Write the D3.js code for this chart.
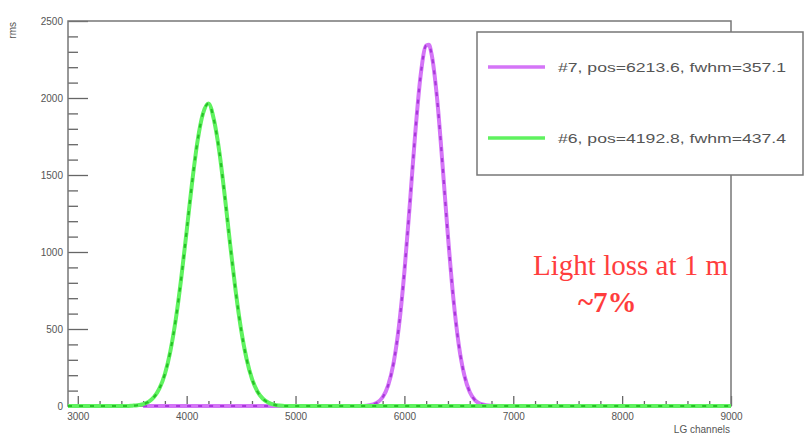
<!DOCTYPE html>
<html>
<head>
<meta charset="utf-8">
<script src="https://cdn.jsdelivr.net/npm/d3@7"></script>
<style>
    body { margin: 0; background: #fff; }
    #chart-area { width: 805px; height: 435px; }
    .tick text { font-family: "Liberation Sans", Arial, sans-serif; font-size: 10px; fill: #555; }
    .tick line { stroke: #666; stroke-width: 1.3; }
</style>
</head>
<body>
<div id="chart-area"></div>
<script>

// channel positions / counts
let xDomain = [2910, 9000];
let yDomain = [0, 2500];
let xMajorTicks = [3000, 4000, 5000, 6000, 7000, 8000, 9000];
let yMajorTicks = [0, 500, 1000, 1500, 2000, 2500];

// #7 (magenta)
let magentaChannels = [3600, 5600, 5650, 5700, 5750, 5800, 5850, 5900, 5950, 6000, 6050, 6100, 6150, 6200, 6225, 6250, 6300, 6350, 6400, 6450, 6500, 6550, 6600, 6650, 6700, 6750, 6800, 6850];
let magentaCounts   = [0, 0, 2, 8, 22, 57, 133, 277, 519, 872, 1313, 1775, 2152, 2341, 2345, 2283, 1998, 1568, 1104, 697, 395, 201, 91, 37, 14, 5, 1, 0];

// #6 (green)
let greenChannels = [2910, 3450, 3500, 3550, 3600, 3650, 3700, 3750, 3800, 3850, 3900, 3950, 4000, 4050, 4100, 4150, 4200, 4250, 4300, 4350, 4400, 4450, 4500, 4550, 4600, 4650, 4700, 4750, 4800, 4850, 4900, 9000];
let greenCounts   = [0, 0, 2, 5, 12, 27, 58, 114, 208, 355, 563, 830, 1137, 1451, 1721, 1899, 1965, 1860, 1651, 1363, 1046, 747, 496, 307, 176, 94, 47, 22, 9, 3, 0, 0];

let legendLabels = ["#7,  pos=6213.6, fwhm=357.1", "#6,  pos=4192.8, fwhm=437.4"];
let axisTitleX = "LG channels";
let axisTitleY = "rms";
let noteLines = ["Light loss at 1 m", "~7%"];

class PeakChart {

    constructor(parentElement) {
        this._parentElement = parentElement;
        this.initVis();
    }

    initVis() {
        let vis = this;

        vis.svg = d3.select("#" + vis._parentElement).append("svg")
            .attr("width", 805)
            .attr("height", 435);

        vis.x = d3.scaleLinear().domain(xDomain).range([68, 731]);
        vis.y = d3.scaleLinear().domain(yDomain).range([406, 21]);

        // minor ticks first so the majors sit on top
        let xMinor = d3.range(3000, 9001, 200).filter(d => d % 1000 !== 0);
        let yMinor = d3.range(0, 2501, 100).filter(d => d % 500 !== 0);

        vis.svg.append("g")
            .attr("transform", "translate(0,406)")
            .call(d3.axisBottom(vis.x).tickValues(xMinor).tickFormat("").tickSize(-5))
            .call(g => g.select(".domain").remove());
        vis.svg.append("g")
            .attr("transform", "translate(0,406)")
            .call(d3.axisBottom(vis.x).tickValues(xMajorTicks).tickFormat(d3.format("d")).tickSize(-10).tickPadding(7))
            .call(g => g.select(".domain").remove());

        vis.svg.append("g")
            .attr("transform", "translate(68,0)")
            .call(d3.axisLeft(vis.y).tickValues(yMinor).tickFormat("").tickSize(-10))
            .call(g => g.select(".domain").remove());
        vis.svg.append("g")
            .attr("transform", "translate(68,0)")
            .call(d3.axisLeft(vis.y).tickValues(yMajorTicks).tickFormat(d3.format("d")).tickSize(-20).tickPadding(5))
            .call(g => g.select(".domain").remove());

        // frame
        vis.svg.append("rect")
            .attr("x", 68).attr("y", 21)
            .attr("width", 663).attr("height", 385)
            .attr("fill", "none")
            .attr("stroke", "#777")
            .attr("stroke-width", 1.5);

        vis.svg.append("text")
            .attr("transform", "translate(16,22) rotate(-90)")
            .attr("text-anchor", "end")
            .attr("font-family", "Liberation Sans, Arial, sans-serif")
            .attr("font-size", 10)
            .attr("fill", "#555")
            .text(axisTitleY);

        vis.svg.append("text")
            .attr("x", 730).attr("y", 433)
            .attr("text-anchor", "end")
            .attr("font-family", "Liberation Sans, Arial, sans-serif")
            .attr("font-size", 10)
            .attr("fill", "#555")
            .text(axisTitleX);

        vis.line = d3.line()
            .x(d => vis.x(d[0]))
            .y(d => vis.y(d[1]))
            .curve(d3.curveMonotoneX);

        vis.updateVis();
    }

    drawHist(xs, ys, light, dark) {
        let vis = this;
        let pts = xs.map((c, i) => [c, ys[i]]);
        vis.svg.append("path")
            .datum(pts)
            .attr("fill", "none")
            .attr("stroke", light)
            .attr("stroke-width", 4)
            .attr("d", vis.line);
        vis.svg.append("path")
            .datum(pts)
            .attr("fill", "none")
            .attr("stroke", dark)
            .attr("stroke-width", 2.2)
            .attr("stroke-dasharray", "4,7")
            .attr("d", vis.line);
    }

    updateVis() {
        let vis = this;

        vis.drawHist(magentaChannels, magentaCounts, "#d475f7", "#a838da");
        vis.drawHist(greenChannels, greenCounts, "#5ff25f", "#27c027");

        // legend
        let lg = vis.svg.append("g");
        lg.append("rect")
            .attr("x", 477).attr("y", 32)
            .attr("width", 326).attr("height", 143)
            .attr("fill", "#fff")
            .attr("stroke", "#777")
            .attr("stroke-width", 1.5);

        let colors = ["#d475f7", "#5ff25f"];
        let rows = [67, 138];
        legendLabels.forEach((t, i) => {
            lg.append("line")
                .attr("x1", 488).attr("x2", 545)
                .attr("y1", rows[i]).attr("y2", rows[i])
                .attr("stroke", colors[i])
                .attr("stroke-width", 3.5);
            lg.append("text")
                .attr("x", 558).attr("y", rows[i] + 5)
                .attr("font-family", "Liberation Sans, Arial, sans-serif")
                .attr("font-size", 13)
                .attr("fill", "#555")
                .attr("textLength", 228)
                .attr("lengthAdjust", "spacingAndGlyphs")
                .text(t);
        });

        // red annotation
        vis.svg.append("text")
            .attr("x", 728).attr("y", 275)
            .attr("text-anchor", "end")
            .attr("font-family", "Liberation Serif, Times New Roman, serif")
            .attr("font-size", 29)
            .attr("fill", "#ff3d3d")
            .text(noteLines[0]);
        vis.svg.append("text")
            .attr("x", 578).attr("y", 312)
            .attr("font-family", "Liberation Serif, Times New Roman, serif")
            .attr("font-size", 29)
            .attr("font-weight", "bold")
            .attr("fill", "#ff3d3d")
            .text(noteLines[1]);
    }
}

new PeakChart("chart-area");

</script>
</body>
</html>
